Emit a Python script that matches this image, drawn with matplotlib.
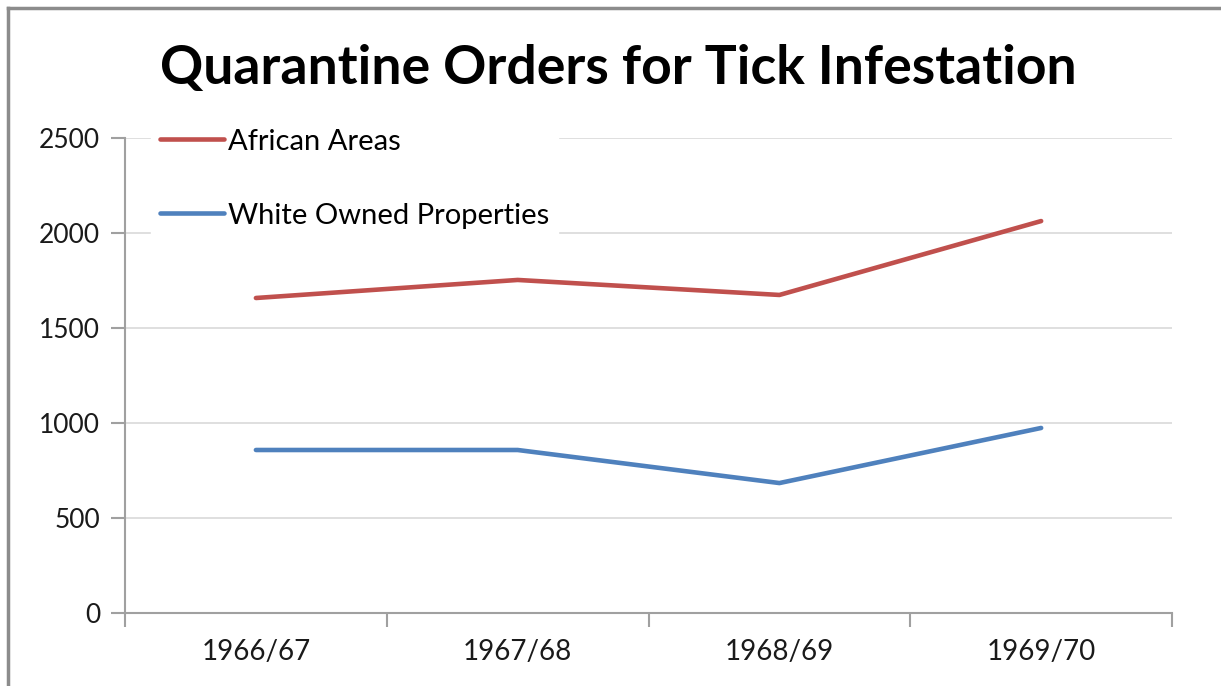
import matplotlib.pyplot as plt
import numpy as np
from matplotlib.lines import Line2D

years = ["1966/67", "1967/68", "1968/69", "1969/70"]
african_areas = [1658, 1753, 1674, 2063]
white_owned = [858, 858, 684, 974]

plt.rcParams['font.family'] = ['Lato', 'DejaVu Sans']

fig = plt.figure(figsize=(12.21, 6.86), dpi=100)
ax = fig.add_axes([0.1024, 0.1064, 0.8575, 0.6924])

x = np.arange(len(years))
ax.plot(x, african_areas, color="#c0504d", lw=3.3, solid_capstyle="round",
        label="African Areas", zorder=3)
ax.plot(x, white_owned, color="#4f81bd", lw=3.3, solid_capstyle="round",
        label="White Owned Properties", zorder=3)

ax.set_xlim(-0.5, len(years) - 0.5)
ax.set_ylim(0, 2500)
ax.set_yticks(np.arange(0, 2501, 500))
ax.set_xticks(x)
ax.set_xticklabels(years)
ax.set_xticks(np.arange(-0.5, len(years), 1), minor=True)
ax.tick_params(axis="x", which="major", length=0, pad=19, labelsize=20, labelcolor="#1a1a1a")
ax.tick_params(axis="x", which="minor", length=10, width=1.5, color="#a0a0a0", direction="out")
ax.tick_params(axis="y", length=10, width=1.5, color="#a0a0a0", pad=8, labelsize=19,
               labelcolor="#1a1a1a")

ax.grid(axis="y", color="#d9d9d9", lw=1.2)
ax.set_axisbelow(True)
for s in ["top", "right"]:
    ax.spines[s].set_visible(False)
for s in ["left", "bottom"]:
    ax.spines[s].set_color("#a0a0a0")
    ax.spines[s].set_linewidth(1.5)

leg = ax.legend(loc="upper left", bbox_to_anchor=(0.011, 1.069), frameon=True, fancybox=False,
                framealpha=1, edgecolor="white", fontsize=21, handlelength=2.2,
                handletextpad=0.15, labelspacing=1.65, borderpad=0.3)
leg.set_zorder(5)

fig.text(0.506, 0.9, "Quarantine Orders for Tick Infestation", ha="center", va="center",
         fontsize=38.5, fontweight="bold", color="black")

# outer chart frame
fig.add_artist(Line2D([8 / 1221, 1], [1 - 8 / 686, 1 - 8 / 686], color="#8c8c8c", lw=2.5))
fig.add_artist(Line2D([8 / 1221, 8 / 1221], [0, 1 - 8 / 686], color="#8c8c8c", lw=2.5))

fig.savefig("out.png", dpi=100)
